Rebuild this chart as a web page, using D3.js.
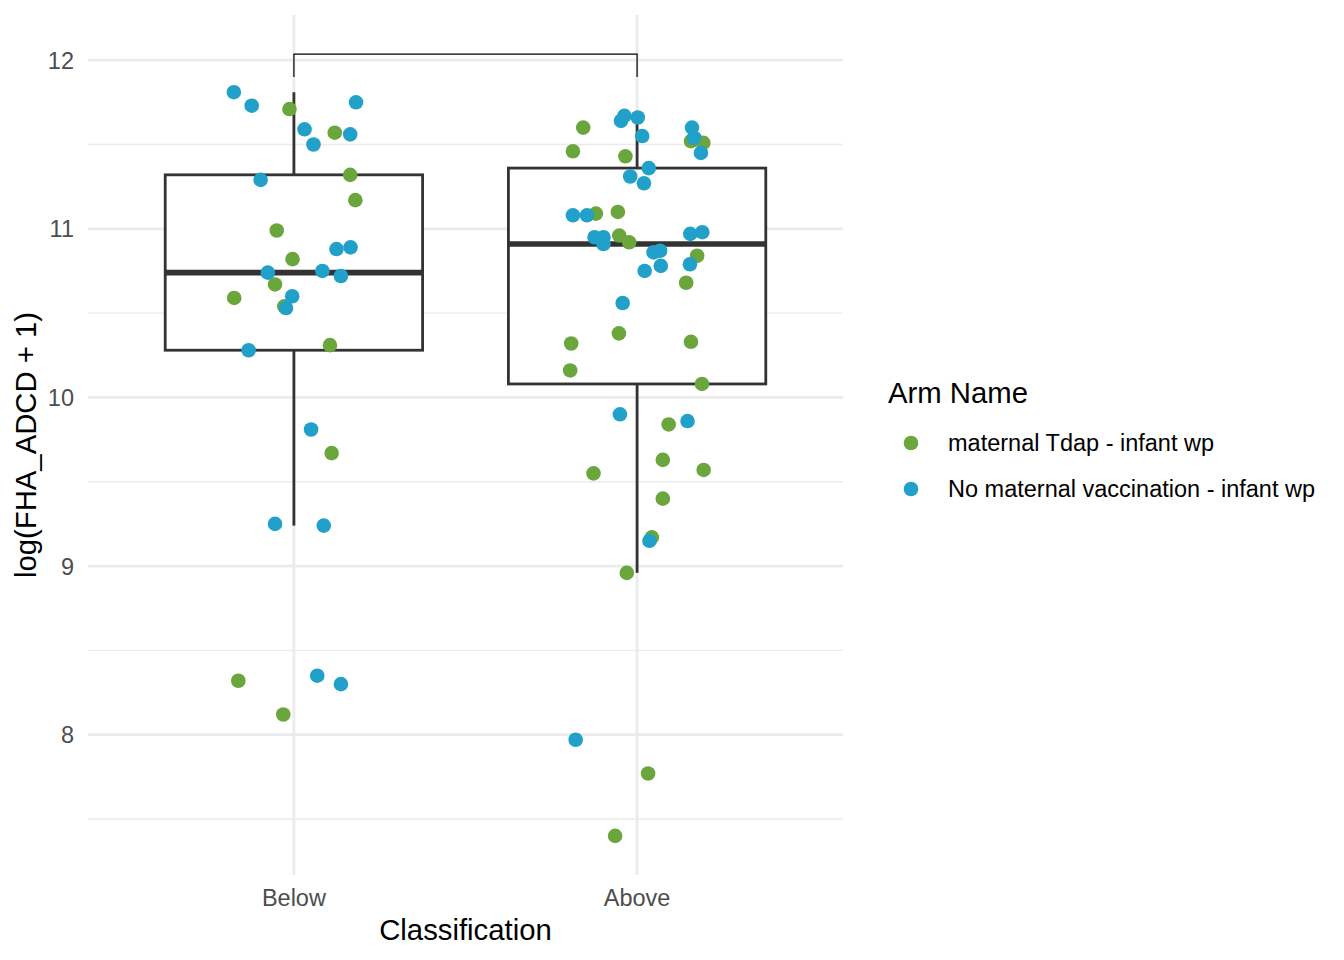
<!DOCTYPE html>
<html>
<head>
<meta charset="utf-8">
<script src="https://cdn.jsdelivr.net/npm/d3@7"></script>
<style>
  body { margin: 0; background: #fff; }
  svg { display: block; font-family: "Liberation Sans", Arial, Helvetica, sans-serif; }
</style>
</head>
<body>
<div id="chart"></div>
<script>
var classes = ["Below", "Above"];
var arms = ["maternal Tdap - infant wp", "No maternal vaccination - infant wp"];
var armColors = ["#6aa63c", "#21a0c9"];
var yTicks = [8, 9, 10, 11, 12];
var yMinor = [7.5, 8.5, 9.5, 10.5, 11.5];

// log values, with the horizontal jitter (in category units)
var belowTdap =        [11.71, 11.57, 11.32, 11.17, 10.99, 10.82, 10.67, 10.59, 10.54, 10.31, 9.67, 8.32, 8.12];
var belowTdapJitter =  [-0.013, 0.119, 0.164, 0.179, -0.050, -0.004, -0.055, -0.174, -0.028, 0.105, 0.110, -0.162, -0.031];
var belowNone =        [11.81, 11.73, 11.75, 11.59, 11.56, 11.50, 11.29, 10.88, 10.89, 10.74, 10.75, 10.72, 10.60, 10.53, 10.28, 9.81, 9.25, 9.24, 8.35, 8.30];
var belowNoneJitter =  [-0.175, -0.123, 0.181, 0.031, 0.164, 0.057, -0.097, 0.124, 0.165, -0.076, 0.083, 0.137, -0.005, -0.023, -0.132, 0.050, -0.055, 0.087, 0.068, 0.137];
var aboveTdap =        [11.60, 11.46, 11.43, 11.52, 11.51, 11.53, 11.09, 11.10, 10.96, 10.92, 10.84, 10.68, 10.38, 10.32, 10.33, 10.16, 10.08, 9.84, 9.63, 9.55, 9.57, 9.40, 9.17, 8.96, 7.77, 7.40];
var aboveTdapJitter =  [-0.157, -0.187, -0.034, 0.157, 0.193, 0.170, -0.120, -0.056, -0.052, -0.023, 0.175, 0.143, -0.053, -0.192, 0.157, -0.195, 0.189, 0.092, 0.075, -0.127, 0.194, 0.075, 0.043, -0.030, 0.032, -0.064];
var aboveNone =        [11.67, 11.64, 11.66, 11.55, 11.60, 11.54, 11.45, 11.36, 11.31, 11.27, 11.08, 11.08, 10.95, 10.95, 10.91, 10.97, 10.98, 10.86, 10.87, 10.78, 10.75, 10.79, 10.56, 9.90, 9.86, 9.15, 7.97];
var aboveNoneJitter =  [-0.037, -0.047, 0.002, 0.015, 0.160, 0.166, 0.186, 0.034, -0.020, 0.020, -0.187, -0.146, -0.124, -0.098, -0.098, 0.155, 0.190, 0.048, 0.067, 0.069, 0.022, 0.154, -0.042, -0.050, 0.147, 0.036, -0.179];

// significance bracket (no label shown)
var bracketTop = 12.036;
var bracketTip = 11.90;

var width = 1344, height = 960;
var panel = {left: 88, right: 843, top: 15, bottom: 875};

var points = [];
function addPoints(cls, arm, vals, jit) {
  vals.forEach(function(v, i) {
    points.push({cls: cls, arm: arm, value: v, jitter: jit[i]});
  });
}
addPoints("Below", 0, belowTdap, belowTdapJitter);
addPoints("Above", 0, aboveTdap, aboveTdapJitter);
addPoints("Below", 1, belowNone, belowNoneJitter);
addPoints("Above", 1, aboveNone, aboveNoneJitter);

var dataMin = d3.min(points, function(d) { return d.value; });
var dataMax = Math.max(d3.max(points, function(d) { return d.value; }), bracketTop);
var span = dataMax - dataMin;

var x = d3.scalePoint().domain(classes).range([panel.left, panel.right]).padding(0.6);
var y = d3.scaleLinear()
  .domain([dataMin - span * 0.05, dataMax + span * 0.05])
  .range([panel.bottom, panel.top]);
var step = x.step();

var svg = d3.select("#chart").append("svg")
  .attr("width", width)
  .attr("height", height);

svg.append("rect").attr("width", width).attr("height", height).attr("fill", "#fff");

// grid
var grid = svg.append("g");
grid.selectAll("line.minor").data(yMinor).enter().append("line")
  .attr("x1", panel.left).attr("x2", panel.right)
  .attr("y1", function(d) { return y(d); }).attr("y2", function(d) { return y(d); })
  .attr("stroke", "#ebebeb").attr("stroke-width", 1.4);
grid.selectAll("line.major").data(yTicks).enter().append("line")
  .attr("x1", panel.left).attr("x2", panel.right)
  .attr("y1", function(d) { return y(d); }).attr("y2", function(d) { return y(d); })
  .attr("stroke", "#ebebeb").attr("stroke-width", 2.8);
grid.selectAll("line.vx").data(classes).enter().append("line")
  .attr("x1", function(d) { return x(d); }).attr("x2", function(d) { return x(d); })
  .attr("y1", panel.top).attr("y2", panel.bottom)
  .attr("stroke", "#ebebeb").attr("stroke-width", 2.8);

// boxes
var stats = classes.map(function(c) {
  var v = points.filter(function(d) { return d.cls === c; })
    .map(function(d) { return d.value; }).sort(d3.ascending);
  var q1 = d3.quantile(v, 0.25), med = d3.quantile(v, 0.5), q3 = d3.quantile(v, 0.75);
  var iqr = q3 - q1;
  var lo = d3.min(v.filter(function(a) { return a >= q1 - 1.5 * iqr; }));
  var hi = d3.max(v.filter(function(a) { return a <= q3 + 1.5 * iqr; }));
  return {cls: c, q1: q1, med: med, q3: q3, lo: lo, hi: hi};
});

var boxW = step * 0.75;
var boxes = svg.append("g").selectAll("g").data(stats).enter().append("g");
boxes.append("line")
  .attr("x1", function(d) { return x(d.cls); }).attr("x2", function(d) { return x(d.cls); })
  .attr("y1", function(d) { return y(d.hi); }).attr("y2", function(d) { return y(d.q3); })
  .attr("stroke", "#333").attr("stroke-width", 2.8);
boxes.append("line")
  .attr("x1", function(d) { return x(d.cls); }).attr("x2", function(d) { return x(d.cls); })
  .attr("y1", function(d) { return y(d.q1); }).attr("y2", function(d) { return y(d.lo); })
  .attr("stroke", "#333").attr("stroke-width", 2.8);
boxes.append("rect")
  .attr("x", function(d) { return x(d.cls) - boxW / 2; })
  .attr("width", boxW)
  .attr("y", function(d) { return y(d.q3); })
  .attr("height", function(d) { return y(d.q1) - y(d.q3); })
  .attr("fill", "#fff").attr("stroke", "#333").attr("stroke-width", 2.8);
boxes.append("line")
  .attr("x1", function(d) { return x(d.cls) - boxW / 2; })
  .attr("x2", function(d) { return x(d.cls) + boxW / 2; })
  .attr("y1", function(d) { return y(d.med); }).attr("y2", function(d) { return y(d.med); })
  .attr("stroke", "#333").attr("stroke-width", 5.6);

// jittered points
svg.append("g").selectAll("circle").data(points).enter().append("circle")
  .attr("cx", function(d) { return x(d.cls) + d.jitter * step; })
  .attr("cy", function(d) { return y(d.value); })
  .attr("r", 7.3)
  .attr("fill", function(d) { return armColors[d.arm]; });

// bracket
var bx1 = x(classes[0]), bx2 = x(classes[1]);
svg.append("path")
  .attr("d", "M" + bx1 + "," + y(bracketTip) + "V" + y(bracketTop) + "H" + bx2 + "V" + y(bracketTip))
  .attr("fill", "none").attr("stroke", "#000").attr("stroke-width", 1.2);

// axes text
svg.append("g").selectAll("text").data(yTicks).enter().append("text")
  .attr("x", 74)
  .attr("y", function(d) { return y(d); })
  .attr("dy", "0.36em")
  .attr("text-anchor", "end")
  .attr("font-size", 23.5)
  .attr("fill", "#4d4d4d")
  .text(function(d) { return d; });

svg.append("g").selectAll("text").data(classes).enter().append("text")
  .attr("x", function(d) { return x(d); })
  .attr("y", 906)
  .attr("text-anchor", "middle")
  .attr("font-size", 23.5)
  .attr("fill", "#4d4d4d")
  .text(function(d) { return d; });

svg.append("text")
  .attr("x", (panel.left + panel.right) / 2)
  .attr("y", 940)
  .attr("text-anchor", "middle")
  .attr("font-size", 29.3)
  .attr("fill", "#000")
  .text("Classification");

svg.append("text")
  .attr("transform", "translate(36," + ((panel.top + panel.bottom) / 2) + ") rotate(-90)")
  .attr("text-anchor", "middle")
  .attr("font-size", 29.3)
  .attr("fill", "#000")
  .text("log(FHA_ADCD + 1)");

// legend
var legend = svg.append("g");
legend.append("text")
  .attr("x", 888).attr("y", 403)
  .attr("font-size", 29.3)
  .attr("fill", "#000")
  .text("Arm Name");
var items = legend.selectAll("g").data(arms).enter().append("g")
  .attr("transform", function(d, i) { return "translate(0," + (443 + i * 46) + ")"; });
items.append("circle")
  .attr("cx", 911).attr("cy", 0).attr("r", 7.3)
  .attr("fill", function(d, i) { return armColors[i]; });
items.append("text")
  .attr("x", 948).attr("y", 0)
  .attr("dy", "0.36em")
  .attr("font-size", 23.5)
  .attr("fill", "#000")
  .text(function(d) { return d; });
</script>
</body>
</html>
